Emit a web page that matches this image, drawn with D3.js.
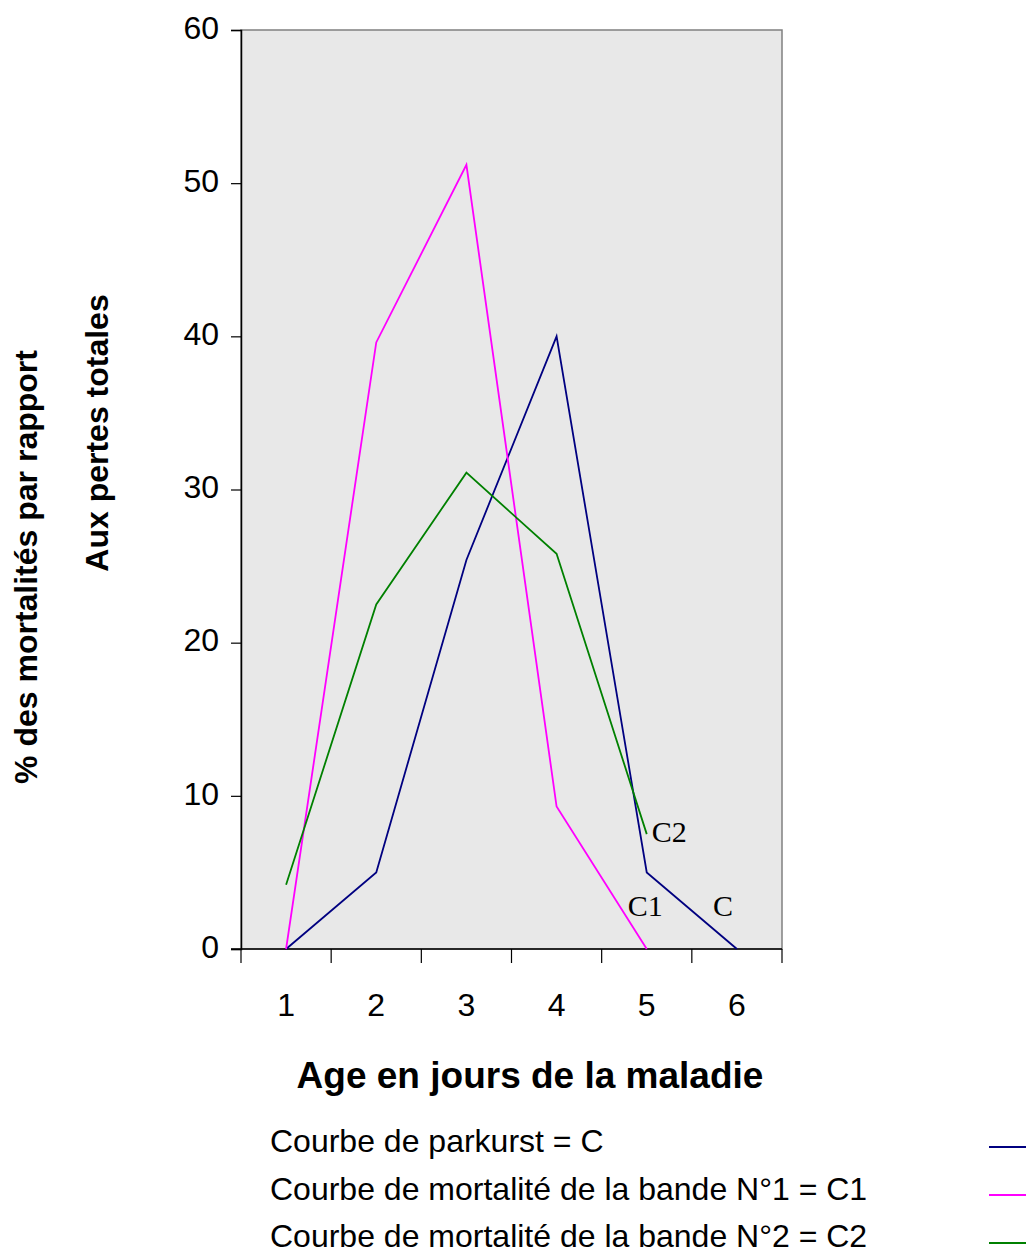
<!DOCTYPE html>
<html>
<head>
<meta charset="utf-8">
<script src="https://cdn.jsdelivr.net/npm/d3@7"></script>
<style>
  body { margin: 0; background: #fff; }
  svg text { font-family: "Liberation Sans", Arial, sans-serif; }
</style>
</head>
<body>
<svg id="chart" width="1026" height="1254"></svg>
<script>
// jours de la maladie
let days = ["1", "2", "3", "4", "5", "6"]
let yTicks = [0, 10, 20, 30, 40, 50, 60]

// courbes
let courbeC = [0, 5, 25.4, 40, 5, 0]
let courbeC1 = [0, 39.6, 51.2, 9.3, 0]
let courbeC2 = [4.2, 22.5, 31.1, 25.8, 7.5]

let seriesNames = ["C", "C1", "C2"]
let seriesColors = ["#000080", "#ff00ff", "#008000"]
let legendLabels = [
    "Courbe de parkurst = C",
    "Courbe de mortalité de la bande N°1 = C1",
    "Courbe de mortalité de la bande N°2 = C2"
]

const svg = d3.select("#chart")

const plotLeft = 241, plotRight = 782, plotTop = 30, plotBottom = 949

const x = d3.scaleBand().domain(days).range([plotLeft, plotRight])
const y = d3.scaleLinear().domain([0, 60]).range([plotBottom, plotTop])

// fond gris
svg.append("rect")
    .attr("x", plotLeft).attr("y", plotTop)
    .attr("width", plotRight - plotLeft).attr("height", plotBottom - plotTop)
    .attr("fill", "#e8e8e8")
    .attr("stroke", "#808080")
    .attr("stroke-width", 1.5)

// axe Y
const yAxis = svg.append("g")
    .attr("transform", "translate(" + plotLeft + ",0)")
    .call(d3.axisLeft(y).tickValues(yTicks).tickSize(10).tickPadding(12))
yAxis.select(".domain").attr("stroke", "#000").attr("stroke-width", 1.5)
yAxis.selectAll(".tick line").attr("stroke", "#000").attr("stroke-width", 1.2)
yAxis.selectAll("text")
    .attr("font-size", 32)
    .attr("fill", "#000")
    .attr("dy", "0.26em")
    .style("font-family", "Liberation Sans, Arial, sans-serif")

// axe X : ticks aux bords des catégories
const xAxis = svg.append("g").attr("transform", "translate(0," + plotBottom + ")")
xAxis.append("line")
    .attr("x1", plotLeft - 10).attr("x2", plotRight)
    .attr("stroke", "#000").attr("stroke-width", 1.5)
const edges = days.map(d => x(d)).concat([plotRight])
xAxis.selectAll(".tk").data(edges).enter().append("line")
    .attr("x1", d => d).attr("x2", d => d)
    .attr("y1", 0).attr("y2", 14)
    .attr("stroke", "#000").attr("stroke-width", 1.2)
xAxis.selectAll(".lbl").data(days).enter().append("text")
    .attr("x", d => x(d) + x.bandwidth() / 2)
    .attr("y", 67)
    .attr("text-anchor", "middle")
    .attr("font-size", 32)
    .text(d => d)

// courbes
const line = d3.line()
    .x((d, i) => x(days[i]) + x.bandwidth() / 2)
    .y(d => y(d))

const allSeries = [courbeC, courbeC1, courbeC2]
allSeries.forEach(function (s, i) {
    svg.append("path")
        .datum(s)
        .attr("d", line)
        .attr("fill", "none")
        .attr("stroke", seriesColors[i])
        .attr("stroke-width", 1.8)
})

// étiquettes des courbes
const lblFont = "Liberation Serif, Times New Roman, serif"
svg.append("text")
    .attr("x", x("5") + x.bandwidth() / 2 + 5)
    .attr("y", y(courbeC2[4]) + 8)
    .style("font-family", lblFont).attr("font-size", 30).text("C2")
svg.append("text")
    .attr("x", x("5") + x.bandwidth() / 2 - 19)
    .attr("y", y(0) - 33)
    .style("font-family", lblFont).attr("font-size", 30).text("C1")
svg.append("text")
    .attr("x", x("6") + x.bandwidth() / 2 - 24)
    .attr("y", y(0) - 33)
    .style("font-family", lblFont).attr("font-size", 30).text("C")

// titres
svg.append("text")
    .attr("x", 530).attr("y", 1088)
    .attr("text-anchor", "middle")
    .attr("font-size", 37).attr("font-weight", "bold")
    .text("Age en jours de la maladie")

svg.append("text")
    .attr("transform", "translate(37,567) rotate(-90)")
    .attr("text-anchor", "middle")
    .attr("font-size", 32).attr("font-weight", "bold")
    .text("% des mortalités par rapport")

svg.append("text")
    .attr("transform", "translate(108,433) rotate(-90)")
    .attr("text-anchor", "middle")
    .attr("font-size", 32).attr("font-weight", "bold")
    .text("Aux pertes totales")

// légende
const legend = svg.append("g")
legendLabels.forEach(function (t, i) {
    legend.append("text")
        .attr("x", 270).attr("y", 1152 + i * 47.5)
        .attr("font-size", 32)
        .text(t)
    legend.append("line")
        .attr("x1", 989).attr("x2", 1030)
        .attr("y1", 1147 + i * 48).attr("y2", 1147 + i * 48)
        .attr("stroke", seriesColors[i])
        .attr("stroke-width", 2)
})
</script>
</body>
</html>
